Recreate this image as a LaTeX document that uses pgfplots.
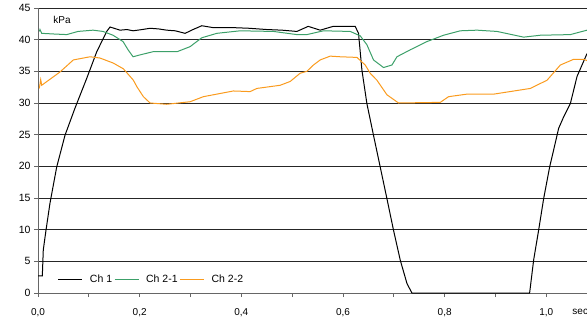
\documentclass[border=0pt]{standalone}
\usepackage{pgfplots}
\pgfplotsset{compat=1.18}
\usepackage{fontspec}
\setmainfont{Liberation Sans}
\definecolor{chgreen}{RGB}{60,160,105}
\definecolor{chorange}{RGB}{250,155,30}
\begin{document}
\begin{tikzpicture}[font=\fontsize{10}{12}\selectfont]
\begin{axis}[
  name=ax,
  at={(0,0)}, anchor=south west,
  scale only axis, width=549pt, height=285pt,
  xmin=0, xmax=1.08, ymin=0, ymax=45,
  axis x line=bottom, axis y line=left,
  axis line style={-, black!60, line width=0.8pt},
  xtick={0,0.2,...,1.0}, minor xtick={0.1,0.3,0.5,0.7,0.9},
  ytick={0,5,...,45},
  tick align=outside, major tick length=4pt, minor tick length=4pt,
  tick style={black!60, line width=0.8pt},
  ymajorgrids, grid style={black!85, line width=0.7pt},
  xticklabel style={yshift=-8pt, /pgf/number format/.cd, fixed, fixed zerofill, precision=1, use comma},
  yticklabel style={font=\fontsize{10.5}{12}\selectfont},
  /pgf/number format/assume math mode=true,
  clip=false,
  legend style={draw=none, fill=none, at={(0.036,0.046)}, anchor=west,
    legend columns=3,
    /tikz/every odd column/.append style={column sep=10pt},
    font=\fontsize{10.5}{12}\selectfont, inner sep=0pt},
  legend image code/.code={\draw[#1] (0pt,0pt) -- (24pt,0pt);},
]
\addplot[black, line width=1pt] coordinates {
(0.000,2.7) (0.0085,2.7) (0.0104,6.8) (0.0157,9.9) (0.0236,14.2) (0.0368,19.9)
(0.0531,24.9) (0.0728,29.2) (0.0959,33.9) (0.1156,38.1) (0.1352,41.3) (0.1417,42.0)
(0.1614,41.5) (0.175,41.6) (0.187,41.4) (0.205,41.6) (0.2205,41.8) (0.237,41.7) (0.2533,41.5)
(0.270,41.4) (0.2894,41.0) (0.305,41.6) (0.3222,42.2) (0.3445,41.9) (0.3839,41.9)
(0.415,41.8) (0.4502,41.6) (0.480,41.5) (0.5093,41.3) (0.5315,42.1) (0.5551,41.5)
(0.5807,42.1) (0.624,42.1) (0.6305,41.0) (0.6372,35.2) (0.647,29.9) (0.66,24.9)
(0.6732,19.9) (0.6864,14.9) (0.6994,9.9) (0.7126,5.2) (0.7258,1.5) (0.7356,0)
(0.9671,0) (0.975,5.2) (0.9848,9.9) (0.9947,14.9) (1.0065,19.9) (1.0144,22.6)
(1.0242,26.0) (1.034,27.8) (1.0472,29.9) (1.0604,34.2) (1.080,37.8)
};
\addlegendentry{\hspace*{-5pt}Ch 1}
\addplot[chgreen, line width=1pt] coordinates {
(0.0026,41.3) (0.0039,41.6) (0.0073,41.0) (0.030,40.9) (0.0565,40.8) (0.0787,41.3)
(0.1083,41.5) (0.128,41.3) (0.1476,40.7) (0.1673,39.7) (0.1772,38.4) (0.187,37.3)
(0.2008,37.6) (0.2264,38.1) (0.2736,38.1) (0.2992,38.9) (0.3222,40.3) (0.3518,41.0)
(0.3976,41.4) (0.4632,41.3) (0.5093,40.8) (0.5289,40.8) (0.5616,41.4) (0.6142,41.3)
(0.6339,40.6) (0.647,39.2) (0.66,36.8) (0.6797,35.6) (0.6963,36.0) (0.7061,37.3)
(0.7323,38.4) (0.7652,39.7) (0.7978,40.7) (0.8307,41.4) (0.8636,41.5) (0.903,41.3)
(0.9553,40.4) (0.9882,40.7) (1.0472,40.8) (1.080,41.5)
};
\addlegendentry{\hspace*{-5pt}Ch 2-1}
\addplot[chorange, line width=1pt] coordinates {
(0.0026,32.3) (0.0053,33.7) (0.0073,32.8) (0.0433,34.9) (0.0695,36.8) (0.1024,37.3)
(0.122,37.1) (0.1482,36.3) (0.1679,35.4) (0.1811,34.2) (0.1876,33.6) (0.1943,32.6)
(0.2008,31.8) (0.2073,31.0) (0.2205,30.0) (0.2533,29.8) (0.2992,30.2) (0.3254,31.0)
(0.3844,31.9) (0.4173,31.8) (0.4305,32.3) (0.4764,32.8) (0.4961,33.4) (0.5157,34.7)
(0.5289,35.0) (0.5419,36.0) (0.5551,36.8) (0.5748,37.4) (0.5945,37.3) (0.6274,37.2)
(0.6437,36.0) (0.6535,34.7) (0.6667,33.6) (0.6864,31.3) (0.7093,30.0) (0.7913,30.1)
(0.8077,31.0) (0.8439,31.4) (0.8963,31.4) (0.9685,32.3) (1.0014,33.6) (1.0276,36.0)
(1.0537,36.9) (1.0734,36.9) (1.080,36.7)
};
\addlegendentry{\hspace*{-5pt}Ch 2-2}
\node[anchor=west, inner sep=0pt] at (axis cs:0.03,43.1) {kPa};
\node[anchor=west, inner sep=0pt] at (axis cs:1.051,-2.9) {sec};
\end{axis}
\pgfresetboundingbox
\path[use as bounding box] ([xshift=-38pt,yshift=-29pt]ax.south west) rectangle ([yshift=8pt]ax.north east);
\end{tikzpicture}
\end{document}
